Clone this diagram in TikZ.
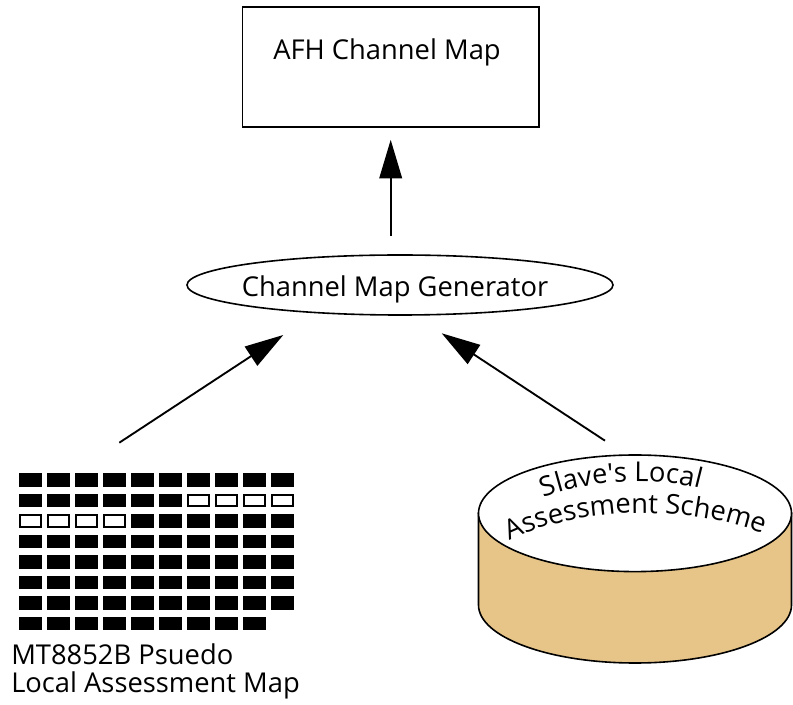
\documentclass[tikz,border=0pt]{standalone}
\usepackage{fontspec}
\setmainfont{Open Sans}[Ligatures=TeXOff]
\usetikzlibrary{arrows.meta,shapes.geometric,decorations.text}
\definecolor{sable}{RGB}{231,197,136}
\begin{document}
\begin{tikzpicture}[x=0.75pt,y=-0.75pt]
            \tikzstyle{boite}=[draw,line width=1.2pt,minimum width=222.5pt,minimum height=90pt,inner sep=0pt]
            \tikzstyle{bulle}=[ellipse,draw,line width=1.2pt,minimum width=319.5pt,minimum height=45pt,inner sep=0pt]
            \tikzstyle{texte}=[font=\fontsize{20.5}{21}\selectfont,inner sep=0pt]
            \tikzstyle{fleche}=[-{Triangle[length=29pt,width=17pt]},line width=1.4pt]
            \useasboundingbox (0,0) rectangle (793,705);
            \node[boite] (afh) at (390.7,67.3) {};
            \node[texte,anchor=base] (afhtexte) at (387,60) {AFH Channel Map};
            \node[bulle] (gen) at (400,285) {};
            \node[texte,anchor=base] (gentexte) at (395,296.5) {Channel Map Generator};
            \coordinate (genG) at (283.3,335);
            \coordinate (genD) at (441.7,333.3);
            \coordinate (grille) at (119.3,442.7);
            \coordinate (cuve) at (605,440.7);
            % pseudo map
            \foreach \r in {0,...,6} {
                \foreach \c in {0,...,9} {
                    \fill (19+28*\c,473.3+20.5*\r) rectangle ++(22.7,13.4);
                }
            }
            \foreach \c in {0,...,8} {
                \fill (19+28*\c,473.3+20.5*7) rectangle ++(22.7,13.4);
            }
            \foreach \r/\c in {1/6,1/7,1/8,1/9,2/0,2/1,2/2,2/3} {
                \fill[white] (20.8+28*\c,475.1+20.5*\r) rectangle ++(19.1,9.8);
            }
            \node[texte,align=left,anchor=north west] (carte) at (11,643) {MT8852B Psuedo\\Local Assessment Map};
            % cylinder
            \draw[line width=1.2pt,fill=sable] (478.5,513.3) -- (478.5,605) arc[start angle=180,end angle=0,x radius=156.5,y radius=58] -- (791.5,513.3) -- cycle;
            \draw[line width=1.2pt,fill=white] (635,513.3) ellipse[x radius=156.5,y radius=58.3];
            \path[decorate,decoration={text along path,text align=center,
                text={|\fontsize{20.5}{21}\selectfont|Slave's Local}}]
                (534,502) .. controls (580,478) and (670,476) .. (710,492);
            \path[decorate,decoration={text along path,text align=center,
                text={|\fontsize{20.5}{21}\selectfont|Assessment Scheme}}]
                (503,544) .. controls (575,505) and (690,503) .. (770,537);
            \draw[fleche,shorten <=13.5pt,shorten >=8.8pt] (afh.south |- gen.north) -- (afh.south);
            \draw[fleche] (grille) -- (genG);
            \draw[fleche] (cuve) -- (genD);
        \end{tikzpicture}
\end{document}
